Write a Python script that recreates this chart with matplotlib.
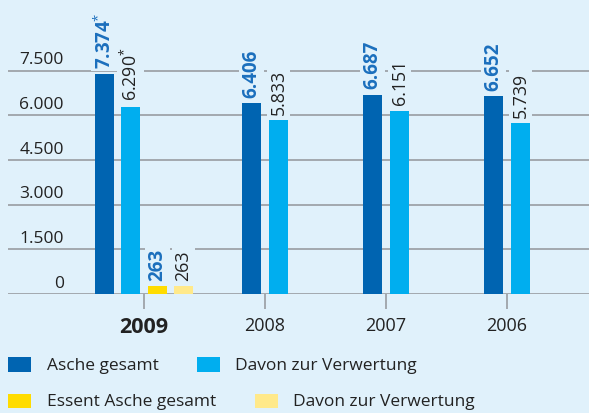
import matplotlib
matplotlib.use("Agg")
import matplotlib.pyplot as plt
from matplotlib.patches import Rectangle
from matplotlib.transforms import ScaledTranslation, blended_transform_factory
import numpy as np

plt.rcParams['font.family'] = ['Open Sans', 'DejaVu Sans']
plt.rcParams['mathtext.fontset'] = 'custom'
plt.rcParams['mathtext.rm'] = 'Open Sans'
plt.rcParams['mathtext.bf'] = 'Open Sans:bold'

years = ["2009", "2008", "2007", "2006"]
asche_gesamt = [7374, 6406, 6687, 6652]
davon_verwertung = [6290, 5833, 6151, 5739]
essent_gesamt = [263]
essent_verwertung = [263]
asche_labels = ["7.374", "6.406", "6.687", "6.652"]
verw_labels = ["6.290", "5.833", "6.151", "5.739"]
asche_star = [True, False, False, False]
verw_star = [True, False, False, False]
essent_labels = ["263"]
essent_verw_labels = ["263"]
yticks = [0, 1500, 3000, 4500, 6000, 7500]
ytick_labels = ["0", "1.500", "3.000", "4.500", "6.000", "7.500"]
legend_labels = ["Asche gesamt", "Davon zur Verwertung", "Essent Asche gesamt", "Davon zur Verwertung"]

BG = "#e0f1fb"
DARK = "#0064b1"
LIGHT = "#00aeef"
YEL = "#ffdc00"
LYEL = "#ffe98a"
LBLUE = "#1b6fbd"
TXT = "#222222"
GRID = "#9ea3a8"

W, H = 589, 414
fig = plt.figure(figsize=(W / 100, H / 100), dpi=100, facecolor=BG)
ax = fig.add_axes([8 / W, (H - 295) / H, (W - 8) / W, 295 / H])
ax.set_facecolor(BG)
px = 121.0
ax.set_xlim((8 - 144) / px, (W - 144) / px)
ax.set_ylim(0, 7500 * 295 / 223.5)
for s in ax.spines.values():
    s.set_visible(False)

for v in yticks:
    ax.axhline(v, color=GRID, lw=1.3, zorder=1)

bw = 19 / px
o1 = 13.5 / px
o2 = 39.5 / px
x = np.arange(len(years))
xa = x - o1
xv = x + o1
xa[0] = 0 - o2
xv[0] = 0 - o1
ax.bar(xa, asche_gesamt, bw, color=DARK, zorder=2)
ax.bar(xv, davon_verwertung, bw, color=LIGHT, zorder=2)
ax.bar([o1], essent_gesamt, bw, color=YEL, zorder=2)
ax.bar([o2], essent_verwertung, bw, color=LYEL, zorder=2)

def vlabel(xp, yv, s, star, bold, color):
    txt = s + (r"$^{*}$" if star else "")
    tr = ax.transData + ScaledTranslation(0, 4.5 / 72, fig.dpi_scale_trans)
    ax.text(xp, yv, txt, rotation=90, ha="center", va="bottom",
            fontsize=13.5 if bold else 12.8,
            fontweight="bold" if bold else "normal", color=color, transform=tr,
            zorder=3, bbox=dict(boxstyle="square,pad=0.15", fc=BG, ec="none"))

for i in range(len(years)):
    vlabel(xa[i], asche_gesamt[i], asche_labels[i], asche_star[i], True, LBLUE)
    vlabel(xv[i], davon_verwertung[i], verw_labels[i], verw_star[i], False, TXT)
vlabel(o1, essent_gesamt[0], essent_labels[0], False, True, LBLUE)
vlabel(o2, essent_verwertung[0], essent_verw_labels[0], False, False, TXT)

# y tick labels above gridlines
ax.set_yticks([])
tr = blended_transform_factory(ax.transAxes, ax.transData) + ScaledTranslation(0, 5.2 / 72, fig.dpi_scale_trans)
for v, l in zip(yticks, ytick_labels):
    ax.text((64 - 8) / (W - 8), v, l, ha="right", va="baseline", fontsize=12.5,
            color=TXT, transform=tr)

ax.set_xticks(x)
ax.set_xticklabels(years, fontsize=13, color=TXT)
ax.get_xticklabels()[0].set_fontweight("bold")
ax.get_xticklabels()[0].set_fontsize(15.5)
ax.tick_params(axis="x", length=11, width=1.3, color=GRID, pad=5)

# legend
def leg(xs, xt, yc, color, label):
    fig.add_artist(Rectangle((xs / W, (H - yc - 7.2) / H), 23 / W, 14.4 / H,
                             transform=fig.transFigure, fc=color, ec="none"))
    fig.text(xt / W, (H - yc - 4.5) / H, label, ha="left", va="baseline",
             fontsize=12.5, color=TXT)

leg(8.3, 46.7, 365.5, DARK, legend_labels[0])
leg(196.7, 235, 365.5, LIGHT, legend_labels[1])
leg(8.3, 46.7, 402, YEL, legend_labels[2])
leg(255, 293.3, 402, LYEL, legend_labels[3])

fig.savefig("out.png", dpi=100, facecolor=BG)
